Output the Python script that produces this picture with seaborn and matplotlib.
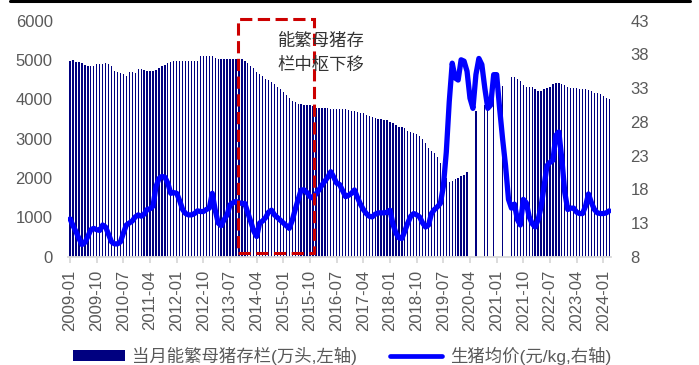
import numpy as np
import pandas as pd
import matplotlib
matplotlib.use("Agg")
import matplotlib.pyplot as plt
from matplotlib.lines import Line2D
from matplotlib.patches import Patch, Rectangle
import seaborn as sns

# Monthly series, 2009-01 .. 2024-03 (12 values per row, one row per year)
months = pd.period_range("2009-01", "2024-03", freq="M").strftime("%Y-%m").tolist()

# 当月能繁母猪存栏 (万头); None = month without a published figure
sow_stock = [
    4983, 5000, 4960, 4940, 4920, 4870, 4840, 4840, 4860, 4900, 4910, 4900,   # 2009
    4920, 4900, 4850, 4730, 4700, 4680, 4640, 4600, 4700, 4700, 4680, 4760,   # 2010
    4760, 4740, 4730, 4720, 4730, 4750, 4810, 4840, 4880, 4920, 4940, 4970,   # 2011
    4970, 4970, 4970, 4970, 4970, 4970, 4970, 4970, 5090, 5090, 5090, 5090,   # 2012
    5090, 5050, 5020, 5020, 5020, 5020, 5020, 5020, 5020, 5020, 5020, 4985,   # 2013
    4930, 4860, 4790, 4704, 4640, 4585, 4530, 4490, 4430, 4380, 4310, 4270,   # 2014
    4196, 4115, 4030, 3960, 3925, 3890, 3875, 3860, 3857, 3857, 3820, 3790,   # 2015
    3775, 3770, 3770, 3770, 3765, 3760, 3760, 3755, 3750, 3745, 3730, 3715,   # 2016
    3700, 3680, 3665, 3646, 3610, 3580, 3550, 3520, 3500, 3490, 3480, 3470,   # 2017
    3433, 3390, 3350, 3305, 3305, 3263, 3195, 3161, 3153, 3110, 3068, 3000,   # 2018
    2898, 2754, 2686, 2627, 2525, 2389, 2190, 2000, 1910, 1925, 1975, 2010,   # 2019
    2045, 2080, 2150, None, None, 3700, None, None, 3850, 3900, None, 4160,   # 2020
    None, None, 4340, None, None, 4577, 4560, 4526, 4475, 4366, 4323, 4323,   # 2021
    4306, 4264, 4213, 4213, 4255, 4298, 4323, 4383, 4408, 4408, 4400, 4366,   # 2022
    4323, 4298, 4298, 4281, 4272, 4255, 4255, 4238, 4213, 4170, 4153, 4136,   # 2023
    4086, 4043, 4009,                                                         # 2024
]

# 生猪均价 (元/kg)
hog_price = [
    13.6, 12.6, 11.7, 10.7, 9.8, 10.1, 11.0, 12.0, 12.2, 12.0, 11.9, 12.7,
    12.4, 11.3, 10.2, 9.9, 9.9, 10.2, 11.5, 12.7, 13.0, 13.3, 13.9, 14.2,
    14.0, 14.3, 15.0, 15.1, 15.5, 18.4, 19.6, 19.9, 19.8, 18.9, 17.4, 17.5,
    17.4, 16.3, 15.0, 14.4, 14.2, 14.2, 14.4, 14.8, 14.7, 14.7, 15.0, 15.2,
    17.4, 14.9, 13.0, 12.6, 13.5, 14.2, 15.7, 16.0, 16.2, 16.0, 15.9, 15.9,
    14.5, 13.2, 11.8, 11.0, 13.0, 13.3, 13.8, 14.6, 14.9, 14.2, 13.8, 13.4,
    13.0, 12.6, 12.2, 13.4, 15.0, 16.5, 17.9, 17.9, 17.5, 16.9, 16.7, 17.3,
    17.9, 18.6, 19.2, 19.8, 20.6, 19.8, 18.9, 18.7, 17.8, 16.9, 17.1, 17.4,
    17.9, 16.8, 15.8, 15.0, 14.4, 14.0, 13.9, 14.3, 14.5, 14.5, 14.5, 14.6,
    14.9, 12.8, 11.5, 10.8, 10.7, 11.8, 13.0, 14.0, 14.4, 14.2, 13.9, 13.0,
    12.4, 12.7, 14.4, 15.0, 15.4, 15.9, 18.4, 23.5, 31.0, 36.7, 34.5, 34.2,
    37.2, 37.0, 35.5, 31.5, 30.0, 35.0, 37.4, 36.5, 33.0, 30.0, 30.5, 35.0,
    35.0, 30.0, 25.5, 21.5, 16.5, 15.2, 15.8, 13.5, 12.7, 16.5, 16.0, 13.9,
    12.9, 12.4, 13.5, 15.4, 18.5, 21.5, 22.0, 22.3, 26.0, 26.5, 22.5, 17.5,
    15.0, 15.2, 15.2, 14.6, 14.4, 14.4, 15.5, 17.3, 16.0, 15.0, 14.5, 14.4,
    14.4, 14.5, 14.8,
]

tick_labels = months[::9]
annotation = "能繁母猪存\n栏中枢下移"
legend_labels = ["当月能繁母猪存栏(万头,左轴)", "生猪均价(元/kg,右轴)"]

sns.set_style("white")
plt.rcParams["font.family"] = ["Liberation Sans", "Noto Sans CJK SC", "DejaVu Sans"]

NAVY = "#000080"
BLUE = "#0000FF"
GRAY = "#595959"
AXIS_GRAY = "#D9D9D9"
RED = "#CC0000"

df = pd.DataFrame({
    "idx": np.arange(len(months)),
    "month": months,
    "sow": pd.to_numeric(pd.Series(sow_stock), errors="coerce"),
    "price": hog_price,
})

W, H = 699, 365
fig = plt.figure(figsize=(W / 100, H / 100), dpi=100)
ax = fig.add_axes([68 / W, 108.3 / H, 543 / W, 236 / H])

bars = df.dropna(subset=["sow"])
sns.barplot(data=bars, x="idx", y="sow", native_scale=True, width=0.45,
            color=NAVY, saturation=1, errorbar=None, ax=ax, linewidth=0)

ax2 = ax.twinx()
sns.lineplot(data=df, x="idx", y="price", color=BLUE, linewidth=3.8, ax=ax2,
             solid_joinstyle="round", solid_capstyle="round", zorder=3)

ax.set_xlim(-0.7, 182.6)
ax.set_ylim(0, 6000)
ax2.set_ylim(8, 43)
ax.set_yticks(range(0, 6001, 1000))
ax2.set_yticks(range(8, 44, 5))
ax.set_xticks(df["idx"][::9])
ax.set_xticklabels(tick_labels, rotation=90)
ax.set_xlabel("")
ax.set_ylabel("")
ax2.set_ylabel("")

for a in (ax, ax2):
    for s in a.spines.values():
        s.set_visible(False)
ax.spines["bottom"].set_visible(True)
ax.spines["bottom"].set_color(AXIS_GRAY)
ax.spines["bottom"].set_linewidth(1.3)

ax.tick_params(axis="x", bottom=True, colors=AXIS_GRAY, length=4.5, width=1.3,
               pad=5, labelcolor=GRAY, labelsize=12)
ax.tick_params(axis="y", length=0, pad=11, labelcolor=GRAY, labelsize=12)
ax2.tick_params(axis="y", length=0, pad=14, labelcolor=GRAY, labelsize=12)

# dashed box marking the 2013-2015 shift
rect = Rectangle((56.7, 94), 82.3 - 56.7, 6040 - 94, transform=ax.transData,
                 fill=False, edgecolor=RED, linewidth=2.2,
                 linestyle=(0, (4, 1.8)), clip_on=False, zorder=5)
ax2.add_patch(rect)
ax2.text(84.8, 5172, annotation, transform=ax.transData, ha="center",
         va="center", fontsize=12.5, color="#333333", linespacing=1.45,
         family=["Noto Sans CJK SC", "DejaVu Sans"], zorder=6)

# header rule
fig.add_artist(Line2D([10 / W, 690 / W], [1 - 1.4 / H] * 2, color="black",
                      linewidth=2.2))

handles = [Patch(facecolor=NAVY, edgecolor="none"),
           Line2D([], [], color=BLUE, linewidth=3.4, solid_capstyle="round")]
leg = fig.legend(handles, legend_labels, loc="center left",
                 bbox_to_anchor=(73 / W, 9.5 / H), ncol=2, frameon=False,
                 fontsize=12.5, handlelength=3.0, handleheight=0.55,
                 handletextpad=0.42, columnspacing=1.9, borderpad=0,
                 borderaxespad=0)
for t in leg.get_texts():
    t.set_color(GRAY)

fig.savefig("out.png", dpi=100)
